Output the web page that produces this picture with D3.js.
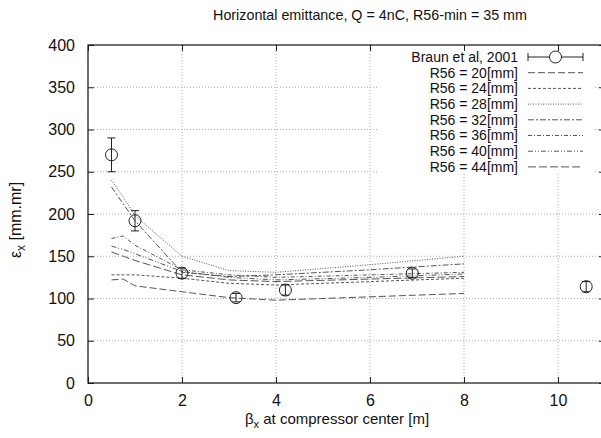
<!DOCTYPE html>
<html>
<head>
<meta charset="utf-8">
<script src="https://cdn.jsdelivr.net/npm/d3@7"></script>
<style>
  body { margin: 0; background: #fff; }
  text { font-family: "Liberation Sans", Arial, sans-serif; fill: #111; }
</style>
</head>
<body>
<div id="chart"></div>
<script>
// measured data (Braun et al, 2001)
var braunX = [0.5, 1.0, 2.0, 3.15, 4.2, 6.9, 10.6];
var braunY = [270, 192, 130, 101, 110, 130, 114];
var braunErr = [20, 12, 6, 5, 6, 5, 6];

// simulation, one curve per R56
var betaX = [0.5, 0.75, 1, 2, 3, 4, 6, 8];
var r56Labels = ["R56 = 20[mm]", "R56 = 24[mm]", "R56 = 28[mm]", "R56 = 32[mm]",
                 "R56 = 36[mm]", "R56 = 40[mm]", "R56 = 44[mm]"];
var r56_20 = [122, 123, 115, 108, 101, 98, 102, 106];
var r56_24 = [128, 128, 128, 124, 118, 116, 120, 124];
var r56_28 = [240, 220, 198, 150, 133, 131, 140, 150];
var r56_32 = [232, 212, 192, 131, 126, 128, 134, 141];
var r56_36 = [171, 174, 163, 134, 128, 125, 128, 131];
var r56_40 = [162, 158, 153, 132, 125, 122, 125, 129];
var r56_44 = [155, 150, 145, 128, 122, 120, 123, 126];
var r56Series = [r56_20, r56_24, r56_28, r56_32, r56_36, r56_40, r56_44];

var xTicks = [0, 2, 4, 6, 8, 10];
var yTicks = [0, 50, 100, 150, 200, 250, 300, 350, 400];

var svgWidth = 601, svgHeight = 438;
var margin = {top: 45, left: 88};
var width = 517, height = 338;

var dashes = ["7,3", "3,2", "1,1.5", "6,2,2,2", "4,2,1,2", "5,2,1,2,1,2", "8,3"];

var svg = d3.select("#chart").append("svg")
  .attr("width", svgWidth)
  .attr("height", svgHeight);

var chartGroup = svg.append("g")
  .attr("transform", `translate(${margin.left}, ${margin.top})`);

var x = d3.scaleLinear().domain([0, 11]).range([0, width]);
var y = d3.scaleLinear().domain([0, 400]).range([height, 0]);

// grid
chartGroup.selectAll(".vgrid")
  .data(xTicks.filter(d => d > 0))
  .enter().append("line")
  .attr("x1", d => x(d)).attr("x2", d => x(d))
  .attr("y1", 0).attr("y2", height)
  .attr("stroke", "#aaa").attr("stroke-width", 1)
  .attr("stroke-dasharray", "1,2");

chartGroup.selectAll(".hgrid")
  .data(yTicks.filter(d => d > 0 && d < 400))
  .enter().append("line")
  .attr("x1", 0).attr("x2", width)
  .attr("y1", d => y(d)).attr("y2", d => y(d))
  .attr("stroke", "#aaa").attr("stroke-width", 1)
  .attr("stroke-dasharray", "1,2");

// legend background hides grid
chartGroup.append("rect")
  .attr("x", 290).attr("y", 3)
  .attr("width", 215).attr("height", 125)
  .attr("fill", "#fff");

// axes
var bottomAxis = d3.axisBottom(x).tickValues(xTicks).tickSize(-6).tickPadding(12);
var leftAxis = d3.axisLeft(y).tickValues(yTicks).tickSize(-6).tickPadding(13);

var gx = chartGroup.append("g")
  .attr("transform", `translate(0, ${height})`)
  .call(bottomAxis);
var gy = chartGroup.append("g").call(leftAxis);

chartGroup.append("g").call(d3.axisTop(x).tickValues(xTicks).tickSize(-6).tickFormat(""));
chartGroup.append("g")
  .attr("transform", `translate(${width}, 0)`)
  .call(d3.axisRight(y).tickValues(yTicks).tickSize(-6).tickFormat(""));

svg.selectAll(".domain").remove();
svg.selectAll(".tick line").attr("stroke", "#222");
gx.selectAll("text").style("font-size", "16px").attr("dy", "0.71em");
gy.selectAll("text").style("font-size", "16px");

chartGroup.append("rect")
  .attr("width", width).attr("height", height)
  .attr("fill", "none").attr("stroke", "#111").attr("stroke-width", 1.2);

// simulation curves
var line = d3.line()
  .x((d, i) => x(betaX[i]))
  .y(d => y(d));

chartGroup.selectAll(".sim")
  .data(r56Series)
  .enter().append("path")
  .attr("d", line)
  .attr("fill", "none")
  .attr("stroke", "#555")
  .attr("stroke-width", 1)
  .attr("stroke-dasharray", (d, i) => dashes[i]);

// measured points with error bars
var pts = chartGroup.selectAll(".pt")
  .data(braunX)
  .enter().append("g");

pts.append("line")
  .attr("x1", d => x(d)).attr("x2", d => x(d))
  .attr("y1", (d, i) => y(braunY[i] + braunErr[i]))
  .attr("y2", (d, i) => y(braunY[i] - braunErr[i]))
  .attr("stroke", "#222");
pts.append("line")
  .attr("x1", d => x(d) - 4).attr("x2", d => x(d) + 4)
  .attr("y1", (d, i) => y(braunY[i] + braunErr[i]))
  .attr("y2", (d, i) => y(braunY[i] + braunErr[i]))
  .attr("stroke", "#222");
pts.append("line")
  .attr("x1", d => x(d) - 4).attr("x2", d => x(d) + 4)
  .attr("y1", (d, i) => y(braunY[i] - braunErr[i]))
  .attr("y2", (d, i) => y(braunY[i] - braunErr[i]))
  .attr("stroke", "#222");
pts.append("circle")
  .attr("cx", d => x(d))
  .attr("cy", (d, i) => y(braunY[i]))
  .attr("r", 6)
  .attr("fill", "none")
  .attr("stroke", "#222");

// legend
var legend = svg.append("g");
var legRowY = d => 57 + d * 15.7;

legend.append("text")
  .attr("x", 518).attr("y", legRowY(0)).attr("dy", "0.35em")
  .attr("text-anchor", "end").style("font-size", "14px")
  .text("Braun et al, 2001");
legend.append("line")
  .attr("x1", 528).attr("x2", 583).attr("y1", legRowY(0)).attr("y2", legRowY(0))
  .attr("stroke", "#222");
legend.selectAll(".cap").data([528, 583]).enter().append("line")
  .attr("x1", d => d).attr("x2", d => d)
  .attr("y1", legRowY(0) - 4).attr("y2", legRowY(0) + 4)
  .attr("stroke", "#222");
legend.append("circle")
  .attr("cx", 555.5).attr("cy", legRowY(0)).attr("r", 6)
  .attr("fill", "#fff").attr("stroke", "#222");

r56Labels.forEach(function(lab, i) {
  legend.append("text")
    .attr("x", 518).attr("y", legRowY(i + 1)).attr("dy", "0.35em")
    .attr("text-anchor", "end").style("font-size", "14px")
    .text(lab);
  legend.append("line")
    .attr("x1", 528).attr("x2", 583)
    .attr("y1", legRowY(i + 1)).attr("y2", legRowY(i + 1))
    .attr("stroke", "#555").attr("stroke-dasharray", dashes[i]);
});

// titles
svg.append("text")
  .attr("x", 370).attr("y", 20)
  .attr("text-anchor", "middle").style("font-size", "14.3px")
  .text("Horizontal emittance, Q = 4nC, R56-min = 35 mm");

var xl = svg.append("text")
  .attr("x", 337).attr("y", 424)
  .attr("text-anchor", "middle").style("font-size", "15px");
xl.append("tspan").text("β");
xl.append("tspan").attr("dy", 4).style("font-size", "11px").text("x");
xl.append("tspan").attr("dy", -4).text(" at compressor center [m]");

var yl = svg.append("text")
  .attr("transform", "translate(21, 220) rotate(-90)")
  .attr("text-anchor", "middle").style("font-size", "16px");
yl.append("tspan").text("ε");
yl.append("tspan").attr("dy", 4).style("font-size", "12px").text("x");
yl.append("tspan").attr("dy", -4).text(" [mm.mr]");
</script>
</body>
</html>
